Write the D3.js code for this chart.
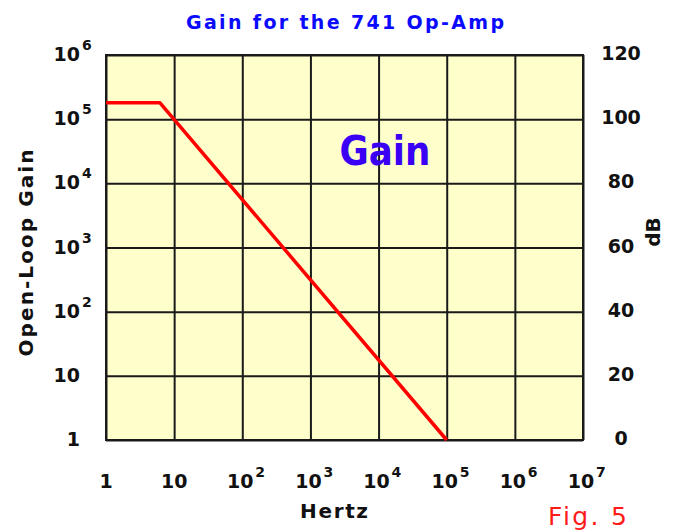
<!DOCTYPE html>
<html>
<head>
<meta charset="utf-8">
<script src="https://cdn.jsdelivr.net/npm/d3@7"></script>
<style>
    body { margin: 0; background: #fff; }
    svg text { font-family: "DejaVu Sans", Verdana, sans-serif; font-weight: bold; }
</style>
</head>
<body>
<svg id="chart" width="675" height="532"></svg>
<script>
// open loop gain curve (Hz -> gain)
const freqHz = [1, 6.2, 1e5];
const openLoopGain = [1.8e5, 1.8e5, 1];

// tick labels
const xTicks = [1, 10, 1e2, 1e3, 1e4, 1e5, 1e6, 1e7];
const xBase = ["1", "10", "10", "10", "10", "10", "10", "10"];
const xExp = ["", "", "2", "3", "4", "5", "6", "7"];

const yTicks = [1, 10, 1e2, 1e3, 1e4, 1e5, 1e6];
const yBase = ["1", "10", "10", "10", "10", "10", "10"];
const yExp = ["", "", "2", "3", "4", "5", "6"];

const dbTicks = [0, 20, 40, 60, 80, 100, 120];

let margin = {left: 106, top: 55, right: 92, bottom: 92};
let width = 675 - margin.left - margin.right,
    height = 532 - margin.top - margin.bottom;

let svg = d3.select("#chart");

let x = d3.scaleLog().domain([1, 1e7]).range([0, width]);
let y = d3.scaleLog().domain([1, 1e6]).range([height, 0]);
let yDb = d3.scaleLinear().domain([0, 120]).range([height, 0]);

let g = svg.append("g")
    .attr("transform", "translate(" + margin.left + "," + margin.top + ")");

g.append("rect")
    .attr("width", width)
    .attr("height", height)
    .attr("fill", "#ffffcc");

// grid lines, done with the axes but without labels
g.append("g")
    .attr("class", "grid")
    .call(d3.axisBottom(x).tickValues(xTicks).tickSize(height).tickFormat(""));

g.append("g")
    .attr("class", "grid")
    .call(d3.axisLeft(y).tickValues(yTicks).tickSize(-width).tickFormat(""));

g.selectAll(".grid .domain").remove();
g.selectAll(".grid line")
    .attr("stroke", "#1a1a1a")
    .attr("stroke-width", 2);

g.append("rect")
    .attr("width", width)
    .attr("height", height)
    .attr("fill", "none")
    .attr("stroke", "#1a1a1a")
    .attr("stroke-width", 2);

// the gain curve
let pts = freqHz.map((f, i) => [f, openLoopGain[i]]);
let line = d3.line()
    .x(d => x(d[0]))
    .y(d => y(d[1]));

g.append("path")
    .datum(pts)
    .attr("d", line)
    .attr("fill", "none")
    .attr("stroke", "#ff0000")
    .attr("stroke-width", 3.5)
    .attr("stroke-linejoin", "round");

// x labels
let xl = g.append("g").attr("class", "xlabels");
xTicks.forEach(function (t, i) {
    let hasExp = xExp[i] !== "";
    xl.append("text")
        .attr("x", x(t) - (hasExp ? 2 : 0))
        .attr("y", height + 48)
        .attr("text-anchor", "middle")
        .attr("font-size", 19)
        .attr("fill", "#111")
        .text(xBase[i]);
    if (hasExp)
        xl.append("text")
            .attr("x", x(t) + 13)
            .attr("y", height + 37)
            .attr("font-size", 14)
            .attr("fill", "#111")
            .text(xExp[i]);
});

// left labels
let yl = g.append("g").attr("class", "ylabels");
yTicks.forEach(function (t, i) {
    yl.append("text")
        .attr("x", -26)
        .attr("y", y(t) + 6)
        .attr("text-anchor", "end")
        .attr("font-size", 19)
        .attr("fill", "#111")
        .text(yBase[i]);
    if (yExp[i] !== "")
        yl.append("text")
            .attr("x", -24)
            .attr("y", y(t) - 5)
            .attr("font-size", 14)
            .attr("fill", "#111")
            .text(yExp[i]);
});

// right dB labels
g.append("g").selectAll("text")
    .data(dbTicks)
    .enter().append("text")
    .attr("x", width + 38)
    .attr("y", d => yDb(d) + 5)
    .attr("text-anchor", "middle")
    .attr("font-size", 19)
    .attr("fill", "#111")
    .text(d => d);

// titles
svg.append("text")
    .attr("x", 345)
    .attr("y", 29)
    .attr("text-anchor", "middle")
    .attr("font-size", 19)
    .attr("fill", "#0a0aff")
    .attr("textLength", 318)
    .attr("lengthAdjust", "spacing")
    .text("Gain for the 741 Op-Amp");

svg.append("text")
    .attr("x", 334)
    .attr("y", 518)
    .attr("text-anchor", "middle")
    .attr("font-size", 20)
    .attr("fill", "#111")
    .attr("textLength", 68)
    .attr("lengthAdjust", "spacing")
    .text("Hertz");

svg.append("text")
    .attr("transform", "translate(33,253) rotate(-90)")
    .attr("text-anchor", "middle")
    .attr("font-size", 20)
    .attr("fill", "#111")
    .attr("textLength", 207)
    .attr("lengthAdjust", "spacing")
    .text("Open-Loop Gain");

svg.append("text")
    .attr("transform", "translate(660,232) rotate(-90)")
    .attr("text-anchor", "middle")
    .attr("font-size", 20)
    .attr("fill", "#111")
    .text("dB");

svg.append("text")
    .attr("x", 385)
    .attr("y", 165)
    .attr("text-anchor", "middle")
    .attr("font-size", 40)
    .attr("fill", "#3a00f5")
    .attr("textLength", 91)
    .attr("lengthAdjust", "spacingAndGlyphs")
    .text("Gain");

svg.append("text")
    .attr("x", 548)
    .attr("y", 525)
    .attr("font-size", 25)
    .style("font-weight", "normal")
    .attr("fill", "#ff1a1a")
    .attr("textLength", 79)
    .attr("lengthAdjust", "spacing")
    .text("Fig. 5");
</script>
</body>
</html>
